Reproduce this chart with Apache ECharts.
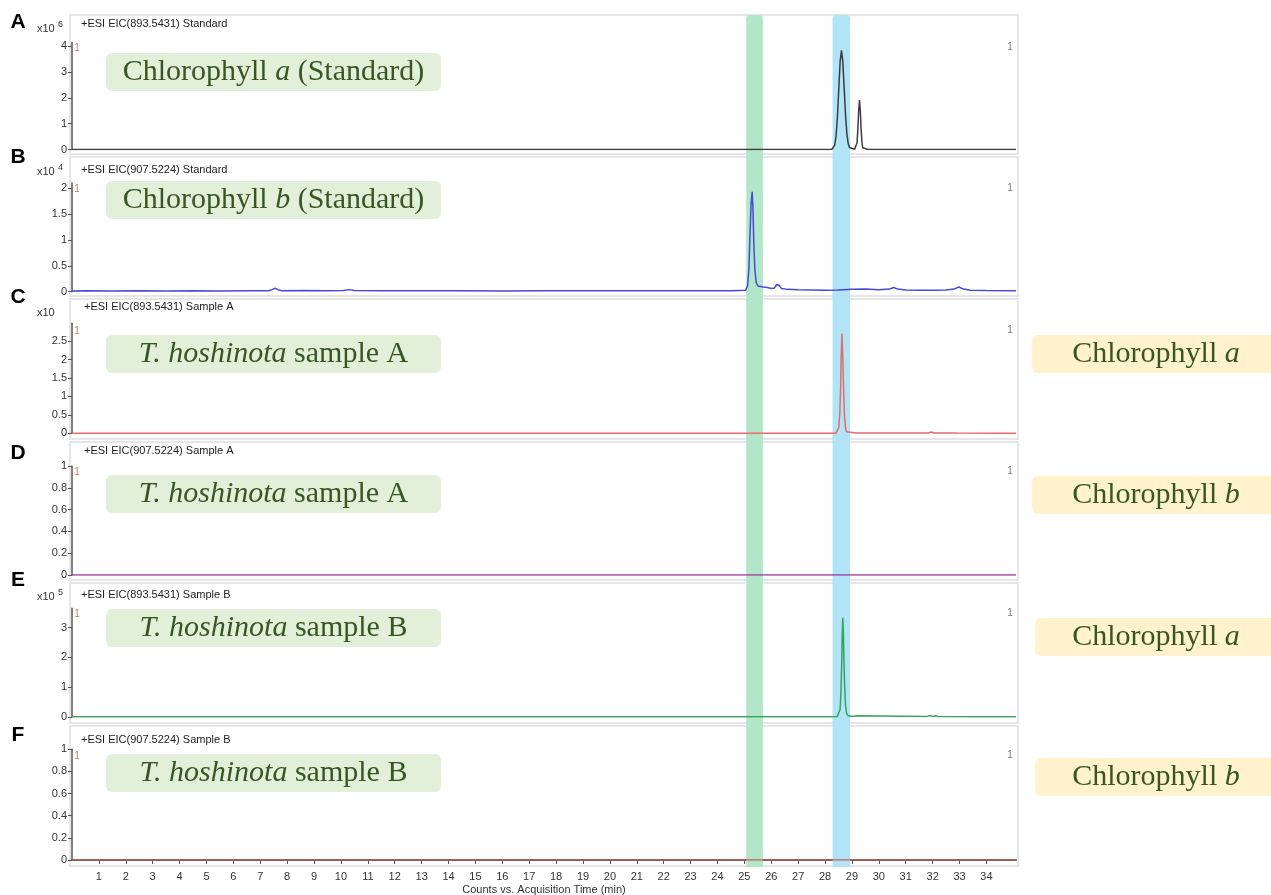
<!DOCTYPE html>
<html><head><meta charset="utf-8">
<script src="https://cdn.jsdelivr.net/npm/echarts@6/dist/echarts.min.js"></script>
<style>html,body{margin:0;padding:0;background:#fff}#c{width:1271px;height:895px}</style>
</head><body><div id="c"></div>
<script>
// ---------- DATA ----------
const timeRange = [0, 35.1];
const xTickValues = [1,2,3,4,5,6,7,8,9,10,11,12,13,14,15,16,17,18,19,20,21,22,23,24,25,26,27,28,29,30,31,32,33,34];
const xAxisName = 'Counts vs. Acquisition Time (min)';
const panelLetters = ['A','B','C','D','E','F'];
const panelTitles = ['+ESI EIC(893.5431) Standard','+ESI EIC(907.5224) Standard','+ESI EIC(893.5431) Sample A','+ESI EIC(907.5224) Sample A','+ESI EIC(893.5431) Sample B','+ESI EIC(907.5224) Sample B'];
const multBase = ['x10','x10','x10','','x10',''];
const multExp = ['6','4','','','5',''];
const yMaxes = [4.15, 2.1, 2.98, 1, 3.65, 1];
const yTicksA = [0,1,2,3,4];
const yTicksB = [0,0.5,1,1.5,2];
const yTicksC = [0,0.5,1,1.5,2,2.5];
const yTicksD = [0,0.2,0.4,0.6,0.8,1];
const yTicksE = [0,1,2,3];
const yTicksF = [0,0.2,0.4,0.6,0.8,1];
const traceA = [[0,0],[28.25,0],[28.31,0.04],[28.36,0.17],[28.41,0.52],[28.46,1.25],[28.51,2.33],[28.56,3.4],[28.61,3.85],[28.66,3.42],[28.71,2.4],[28.76,1.35],[28.81,0.62],[28.86,0.24],[28.91,0.08],[28.97,0.02],[29.1,0.01],[29.16,0.05],[29.19,0.26],[29.22,0.8],[29.25,1.5],[29.28,1.92],[29.31,1.52],[29.34,0.82],[29.37,0.3],[29.4,0.07],[29.45,0.01],[29.6,0],[35.1,0]];
const traceB = [[0,0.015],[0.5,0.02],[1.5,0.012],[2.5,0.018],[3.5,0.014],[4.5,0.02],[5.5,0.015],[6.5,0.02],[7.3,0.02],[7.45,0.04],[7.55,0.07],[7.65,0.04],[7.8,0.02],[8.6,0.025],[9.4,0.018],[10.1,0.025],[10.3,0.04],[10.5,0.025],[11.5,0.02],[13,0.018],[14.5,0.02],[16,0.015],[17.5,0.02],[19,0.017],[20.5,0.02],[22,0.018],[23.5,0.02],[24.5,0.02],[25.05,0.03],[25.12,0.12],[25.17,0.45],[25.21,1.1],[25.25,1.7],[25.29,1.93],[25.32,1.6],[25.35,0.95],[25.39,0.42],[25.44,0.18],[25.5,0.11],[25.7,0.09],[25.85,0.08],[26.0,0.06],[26.12,0.07],[26.2,0.14],[26.25,0.17],[26.3,0.12],[26.38,0.06],[26.6,0.045],[27,0.04],[27.5,0.035],[28,0.03],[28.5,0.035],[29,0.045],[29.5,0.05],[30,0.04],[30.4,0.05],[30.55,0.08],[30.7,0.05],[31,0.035],[31.5,0.03],[32,0.03],[32.5,0.035],[32.8,0.05],[32.97,0.09],[33.15,0.05],[33.4,0.03],[34,0.025],[35.1,0.02]];
const traceC = [[0,0],[28.4,0],[28.47,0.03],[28.51,0.15],[28.55,0.55],[28.58,1.3],[28.6,2.1],[28.63,2.7],[28.66,2.05],[28.69,1.15],[28.72,0.5],[28.76,0.15],[28.8,0.04],[28.86,0.01],[29.15,0.01],[29.22,0.03],[29.3,0.01],[31.85,0.01],[31.95,0.035],[32.05,0.01],[32.9,0.005],[35.1,0]];
const traceD = [[0,0],[35.1,0]];
const traceE = [[0,0.01],[28.45,0.01],[28.52,0.05],[28.56,0.25],[28.59,0.8],[28.62,1.8],[28.64,2.8],[28.66,3.33],[28.68,2.9],[28.7,2.0],[28.73,1.0],[28.76,0.4],[28.8,0.12],[28.85,0.05],[29.0,0.02],[29.2,0.04],[29.25,0.02],[31.8,0.02],[31.9,0.05],[32.0,0.02],[32.1,0.04],[32.2,0.02],[33.5,0.01],[35.1,0.01]];
const traceF = [[0,0],[35.1,0]];
const leftLabels = ['Chlorophyll {i|a} (Standard)','Chlorophyll {i|b} (Standard)','{i|T. hoshinota} sample A','{i|T. hoshinota} sample A','{i|T. hoshinota} sample B','{i|T. hoshinota} sample B'];
const rightLabels = ['Chlorophyll {i|a}','Chlorophyll {i|b}','Chlorophyll {i|a}','Chlorophyll {i|b}'];
const bandGreen = [25.07, 25.69];
const bandBlue = [28.28, 28.93];

// ---------- LAYOUT / STYLE ----------
const traces = [traceA, traceB, traceC, traceD, traceE, traceF];
const yTicks = [yTicksA, yTicksB, yTicksC, yTicksD, yTicksE, yTicksF];
const colors = ['#3c3c3c','#4848d8','#e86a6a','#9a3c9a','#3aa35a','#c46262'];
const gridTop = [42.6, 183, 323.3, 466, 608.2, 749.3];
const gridH = [106.9, 108.7, 110, 109, 108.8, 110.7];
const frameY = [15, 157, 299, 442, 583, 726];
const frameH = [139, 139, 140, 138, 140, 140];
const titleY = [24, 170, 307, 451, 595, 740];
const titleX = [81, 81, 84, 84, 81, 81];
const multY = [29, 172, 313, 0, 597, 0];
const letterY = [22, 157, 297, 453, 580, 735];
const oneY = [48, 189, 331, 472, 614, 756];
const boxY = [53, 181, 335, 475, 609, 754];
const rBoxY = [335, 476, 618, 758];
const rBoxX = [1032, 1032, 1035, 1035];
const GL = 72, GR = 255;
const serif = '"Liberation Serif","Times New Roman",serif';
const sans = '"Liberation Sans",Arial,sans-serif';
const txtGreen = '#375623';
const boxFont = 30;

const grids = [], xAxes = [], yAxes = [], series = [];
for (let i = 0; i < 6; i++) {
  grids.push({left: GL, right: GR, top: gridTop[i], height: gridH[i], containLabel: false, outerBoundsMode: 'none'});
  const last = i === 5;
  xAxes.push({
    type: 'value', gridIndex: i, min: timeRange[0], max: timeRange[1], show: last,
    offset: 5,
    axisLine: {show: true, lineStyle: {color: '#555', width: 2}},
    axisTick: {show: true, inside: false, length: 4, lineStyle: {color: '#555'}, customValues: xTickValues},
    axisLabel: {color: '#333', fontSize: 11, fontFamily: sans, margin: 6, customValues: xTickValues},
    splitLine: {show: false},
    name: last ? xAxisName : '', nameLocation: 'middle', nameGap: 19,
    nameTextStyle: {color: '#333', fontSize: 11, fontFamily: sans}
  });
  yAxes.push({
    type: 'value', gridIndex: i, min: 0, max: yMaxes[i], offset: 2,
    axisLine: {show: true, lineStyle: {color: '#555', width: 1.5}},
    axisTick: {show: true, length: 4, lineStyle: {color: '#555'}, customValues: yTicks[i]},
    axisLabel: {color: '#333', fontSize: 11, fontFamily: sans, margin: 3, customValues: yTicks[i]},
    splitLine: {show: false}
  });
  series.push({
    type: 'line', xAxisIndex: i, yAxisIndex: i, data: traces[i], showSymbol: false,
    lineStyle: {color: colors[i], width: 1.5}, animation: false, z: 5
  });
}

const els = [];
for (let i = 0; i < 6; i++) {
  els.push({type: 'rect', id: 'fr' + i, z: 0, shape: {x: 70, y: frameY[i], width: 948, height: frameH[i]},
    style: {fill: 'none', stroke: '#e6e6e6', lineWidth: 2}});
  els.push({type: 'text', id: 'lt' + i, z: 6, x: 18, y: letterY[i],
    style: {text: panelLetters[i], font: 'bold 21px ' + sans, fill: '#000', textAlign: 'center', textVerticalAlign: 'middle'}});
  els.push({type: 'text', id: 'ti' + i, z: 6, x: titleX[i], y: titleY[i],
    style: {text: panelTitles[i], font: '11px ' + sans, fill: '#222', textAlign: 'left', textVerticalAlign: 'middle'}});
  if (multBase[i]) {
    els.push({type: 'text', id: 'mb' + i, z: 6, x: 37, y: multY[i],
      style: {text: multBase[i], font: '11px ' + sans, fill: '#333', textAlign: 'left', textVerticalAlign: 'middle'}});
    if (multExp[i]) els.push({type: 'text', id: 'me' + i, z: 6, x: 58, y: multY[i] - 4,
      style: {text: multExp[i], font: '9px ' + sans, fill: '#333', textAlign: 'left', textVerticalAlign: 'middle'}});
  }
  els.push({type: 'text', id: 'o1' + i, z: 6, x: 77, y: oneY[i],
    style: {text: '1', font: '10px ' + sans, fill: '#b08878', textAlign: 'center', textVerticalAlign: 'middle'}});
  els.push({type: 'text', id: 'o2' + i, z: 6, x: 1010, y: oneY[i] - 1,
    style: {text: '1', font: '10px ' + sans, fill: '#777', textAlign: 'center', textVerticalAlign: 'middle'}});
  els.push({type: 'rect', id: 'bx' + i, z: 6, shape: {x: 106, y: boxY[i], width: 335, height: 38, r: 6},
    style: {fill: '#e2efd9'}});
  els.push({type: 'text', id: 'bt' + i, z: 7, x: 273.5, y: boxY[i] + 19,
    style: {text: leftLabels[i], font: boxFont + 'px ' + serif, fill: txtGreen, textAlign: 'center', textVerticalAlign: 'middle',
      rich: {i: {fontStyle: 'italic', fontSize: boxFont, fontFamily: serif, fill: txtGreen, color: txtGreen}}}});
}
for (let j = 0; j < 4; j++) {
  els.push({type: 'rect', id: 'rb' + j, z: 6, shape: {x: rBoxX[j], y: rBoxY[j], width: 260, height: 38, r: 6},
    style: {fill: '#fff2cc'}});
  els.push({type: 'text', id: 'rt' + j, z: 7, x: 1156, y: rBoxY[j] + 19,
    style: {text: rightLabels[j], font: boxFont + 'px ' + serif, fill: txtGreen, textAlign: 'center', textVerticalAlign: 'middle',
      rich: {i: {fontStyle: 'italic', fontSize: boxFont, fontFamily: serif, fill: txtGreen, color: txtGreen}}}});
}

const chart = echarts.init(document.getElementById('c'), null, {renderer: 'canvas'});
chart.setOption({
  animation: false, backgroundColor: '#fff',
  grid: grids, xAxis: xAxes, yAxis: yAxes, series: series,
  graphic: {elements: els}
});

// highlight bands, positioned through the x scale (drawn beneath the traces)
const bandEls = [];
[[bandGreen, '#b2e6c8'], [bandBlue, '#b0e4f6']].forEach((b, k) => {
  const x0 = chart.convertToPixel({xAxisIndex: 5}, b[0][0]);
  const x1 = chart.convertToPixel({xAxisIndex: 5}, b[0][1]);
  bandEls.push({type: 'rect', id: 'band' + k, z: 1, shape: {x: x0, y: 15, width: x1 - x0, height: 852, r: [4, 4, 0, 0]},
    style: {fill: b[1]}});
});
chart.setOption({graphic: {elements: bandEls}});
</script></body></html>
